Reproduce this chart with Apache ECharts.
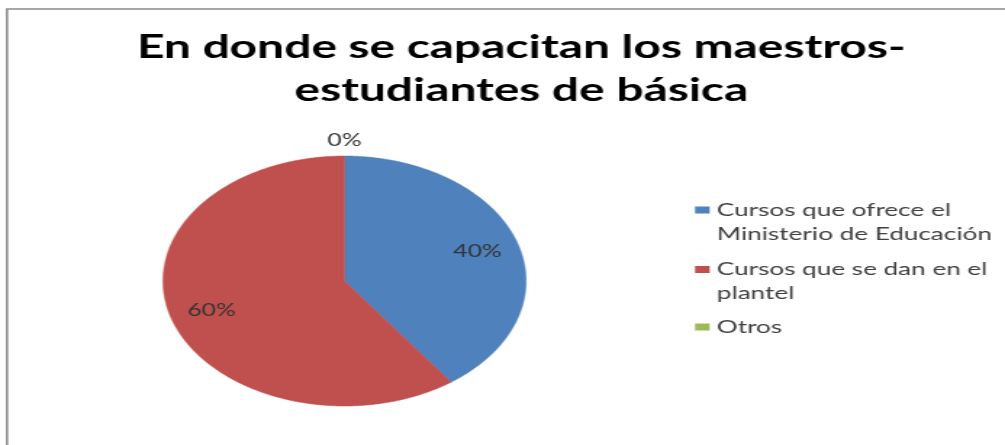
<!DOCTYPE html>
<html>
<head>
<meta charset="utf-8">
<script src="https://cdn.jsdelivr.net/npm/echarts@6/dist/echarts.min.js"></script>
<style>
  html, body { margin: 0; padding: 0; background: #ffffff; overflow: hidden; }
  #wrap { width: 1005px; height: 445px; overflow: hidden; }
  /* the reference picture is a chart stretched horizontally (~1.45x) */
  #chart { width: 693px; height: 445px; transform: scale(1.4502, 1); transform-origin: 0 0; }
</style>
</head>
<body>
<div id="wrap"><div id="chart"></div></div>
<script>
// ---- data ----
const titleText = 'En donde se capacitan los maestros-\nestudiantes de básica';
const categories = ['Cursos que ofrece el Ministerio de Educación', 'Cursos que se dan en el plantel', 'Otros'];
const legendLabels = ['Cursos que ofrece el\nMinisterio de Educación', 'Cursos que se dan en el\nplantel', 'Otros'];
const values = [40, 60, 0];

// ---- styles ----
const colors = ['#4F81BD', '#C0504D', '#9BBB59'];
const font = 'Lato';
const total = values.reduce((a, b) => a + b, 0);
const starts = [];
values.reduce((acc, v, i) => { starts[i] = acc / total; return acc + v; }, 0);

function makeRender(i) {
  return function (params, api) {
    const v = api.value(2);
    const s = starts[i];
    const e = s + v / total;
    const children = [];
    if (v > 0) {
      const pts = [api.coord([0, 0])];
      const n = Math.max(2, Math.ceil((e - s) * 720));
      for (let k = 0; k <= n; k++) {
        const a = 2 * Math.PI * (s + (e - s) * k / n);
        pts.push(api.coord([Math.sin(a), Math.cos(a)]));
      }
      children.push({
        type: 'polygon',
        shape: { points: pts },
        style: { fill: colors[i], stroke: colors[i], lineWidth: 0.5 }
      });
    }
    const mid = 2 * Math.PI * (s + e) / 2;
    const r = v > 0 ? 0.77 : 1.12;
    const p = api.coord([r * Math.sin(mid), r * Math.cos(mid)]);
    children.push({
      type: 'text',
      x: p[0], y: p[1],
      style: {
        text: Math.round(v / total * 100) + '%',
        fill: '#333333',
        font: '17px "' + font + '"',
        align: 'center',
        verticalAlign: 'middle'
      },
      z2: 10
    });
    return { type: 'group', children: children };
  };
}

const legendTops = [174, 233.5, 315];
const legends = categories.map((c, i) => {
  const twoLine = legendLabels[i].indexOf('\n') >= 0;
  return {
    data: [c],
    orient: 'vertical',
    left: 479.3,
    top: legendTops[i],
    padding: 0,
    icon: 'rect',
    itemWidth: 10,
    itemHeight: 7,
    selectedMode: false,
    // a leading empty line keeps the first text line level with the key
    formatter: () => (twoLine ? ' \n' : '') + legendLabels[i],
    textStyle: {
      fontFamily: font,
      fontSize: 18,
      color: '#404040',
      lineHeight: 24
    }
  };
});

const chart = echarts.init(document.getElementById('chart'), null, { renderer: 'canvas' });
chart.setOption({
  animation: false,
  backgroundColor: '#ffffff',
  title: {
    text: titleText,
    left: 354.5,
    top: 21,
    textAlign: 'center',
    textStyle: {
      fontFamily: font,
      fontWeight: 'bold',
      fontSize: 33,
      lineHeight: 43,
      color: '#000000'
    }
  },
  graphic: [{
    type: 'rect',
    shape: { x: 4.8, y: 9, width: 720, height: 450 },
    style: { fill: 'none', stroke: '#8c8c8c', lineWidth: 1.6 },
    silent: true
  }],
  legend: legends,
  grid: { left: 112.4, top: 156, width: 250.3, height: 250 },
  xAxis: { type: 'value', min: -1, max: 1, show: false },
  yAxis: { type: 'value', min: -1, max: 1, show: false },
  series: categories.map((c, i) => ({
    type: 'custom',
    name: c,
    coordinateSystem: 'cartesian2d',
    itemStyle: { color: colors[i] },
    encode: { x: 0, y: 1 },
    data: [[0, 0, values[i]]],
    renderItem: makeRender(i)
  }))
});
</script>
</body>
</html>
